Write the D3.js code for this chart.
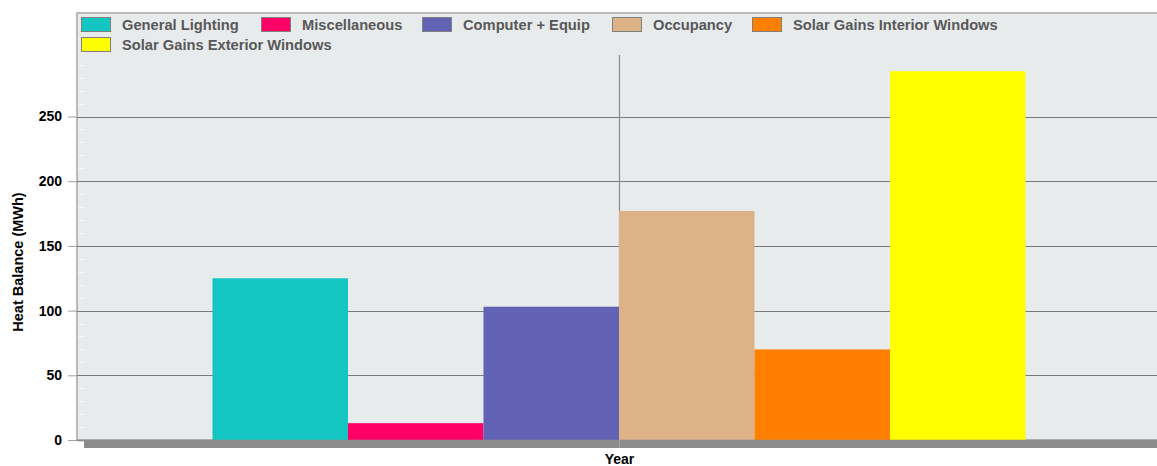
<!DOCTYPE html>
<html>
<head>
<meta charset="utf-8">
<title>Heat Balance</title>
<style>
  body { margin: 0; background: #fff; }
  svg text { font-family: Arial, "Liberation Sans", sans-serif; }
  .tick-label { font-size: 14px; font-weight: bold; fill: #000; }
  .legend-label { font-size: 14.7px; font-weight: bold; fill: #585858; }
</style>
</head>
<body>
<div id="chart"></div>
<script src="https://d3js.org/d3.v7.min.js"></script>
<script>
  // chart data
  var categories = ["Year"];
  var seriesNames = ["General Lighting", "Miscellaneous", "Computer + Equip", "Occupancy",
                     "Solar Gains Interior Windows", "Solar Gains Exterior Windows"];
  var seriesValues = [125, 13, 103, 177, 70, 285];
  var seriesColors = ["#13c6c2", "#ff0066", "#6262b4", "#deb287", "#ff8000", "#ffff00"];
  var yTicks = [0, 50, 100, 150, 200, 250];

  var width = 1157, height = 466;
  var plotLeft = 77, plotTop = 13, plotRight = 1161, plotBottom = 440;

  var svg = d3.select("#chart").append("svg")
      .attr("width", width).attr("height", height);

  var x0 = d3.scaleBand().domain(categories).range([plotLeft, plotRight])
      .paddingInner(0).paddingOuter(1 / 6);
  var x1 = d3.scaleBand().domain(seriesNames).range([0, x0.bandwidth()]);
  var y = d3.scaleLinear().domain([0, 330]).range([plotBottom, plotTop]);

  // plot background + border
  svg.append("rect").attr("x", plotLeft).attr("y", plotTop)
      .attr("width", plotRight - plotLeft).attr("height", plotBottom - plotTop)
      .attr("fill", "#e8ebec").attr("stroke", "#a6a6a6").attr("stroke-width", 1.5);

  // minor ticks inside left edge
  svg.append("g").selectAll("line").data(d3.range(10, 330, 10))
    .join("line")
      .attr("x1", plotLeft + 1).attr("x2", plotLeft + 8)
      .attr("y1", d => Math.round(y(d)) + 0.5).attr("y2", d => Math.round(y(d)) + 0.5)
      .attr("stroke", "#f7f7f7");

  // horizontal gridlines
  svg.append("g").selectAll("line").data(yTicks.filter(d => d > 0))
    .join("line")
      .attr("x1", plotLeft).attr("x2", plotRight)
      .attr("y1", d => Math.round(y(d)) + 0.5).attr("y2", d => Math.round(y(d)) + 0.5)
      .attr("stroke", "#7a7a7a");

  // category divider line
  var cx = Math.round(x0("Year") + x0.bandwidth() / 2) + 0.5;
  svg.append("line").attr("x1", cx).attr("x2", cx).attr("y1", 55).attr("y2", plotBottom + 8)
      .attr("stroke", "#8a8a8a").attr("stroke-width", 1.2);

  // bars
  svg.append("g").selectAll("rect").data(seriesNames)
    .join("rect")
      .attr("x", (d, i) => x0("Year") + x1(d))
      .attr("width", x1.bandwidth())
      .attr("y", (d, i) => y(seriesValues[i]))
      .attr("height", (d, i) => y(0) - y(seriesValues[i]))
      .attr("fill", (d, i) => seriesColors[i]);

  // floor
  svg.append("rect").attr("x", plotLeft + 7).attr("y", plotBottom + 1)
      .attr("width", width - plotLeft - 7).attr("height", 7).attr("fill", "#8c8c8c");
  svg.append("line").attr("x1", plotLeft).attr("x2", plotRight)
      .attr("y1", plotBottom + 0.5).attr("y2", plotBottom + 0.5)
      .attr("stroke", "#8c8c8c").attr("stroke-width", 1.5);
  svg.append("line").attr("x1", cx).attr("x2", cx).attr("y1", plotBottom).attr("y2", plotBottom + 8)
      .attr("stroke", "#a0a0a0");

  // y axis
  var yAxis = svg.append("g").attr("transform", "translate(" + plotLeft + ",0)")
      .call(d3.axisLeft(y).tickValues(yTicks).tickSize(9).tickPadding(6));
  yAxis.select(".domain").remove();
  yAxis.selectAll(".tick line").attr("stroke", "#a0a0a0");
  yAxis.selectAll(".tick text").attr("class", "tick-label").attr("dy", "0.32em")
      .style("font-family", "Arial, 'Liberation Sans', sans-serif").attr("font-size", null);

  // axis titles
  svg.append("text").attr("transform", "translate(23,262) rotate(-90)")
      .attr("text-anchor", "middle").attr("font-size", 14.5).attr("font-weight", "bold")
      .text("Heat Balance (MWh)");
  svg.append("text").attr("x", cx).attr("y", 464).attr("text-anchor", "middle")
      .attr("font-size", 14).attr("font-weight", "bold").text(categories[0]);

  // legend
  var legendPos = [[81, 17], [261, 17], [422, 17], [612, 17], [752, 17], [81, 37]];
  var legend = svg.append("g").selectAll("g").data(seriesNames)
    .join("g")
      .attr("transform", (d, i) => "translate(" + legendPos[i][0] + "," + legendPos[i][1] + ")");
  legend.append("rect").attr("x", 0.5).attr("y", 0.5).attr("width", 29).attr("height", 14)
      .attr("fill", (d, i) => seriesColors[i]).attr("stroke", "#808080");
  legend.append("text").attr("class", "legend-label").attr("x", 41).attr("y", 12.5)
      .text(d => d);
</script>
</body>
</html>
